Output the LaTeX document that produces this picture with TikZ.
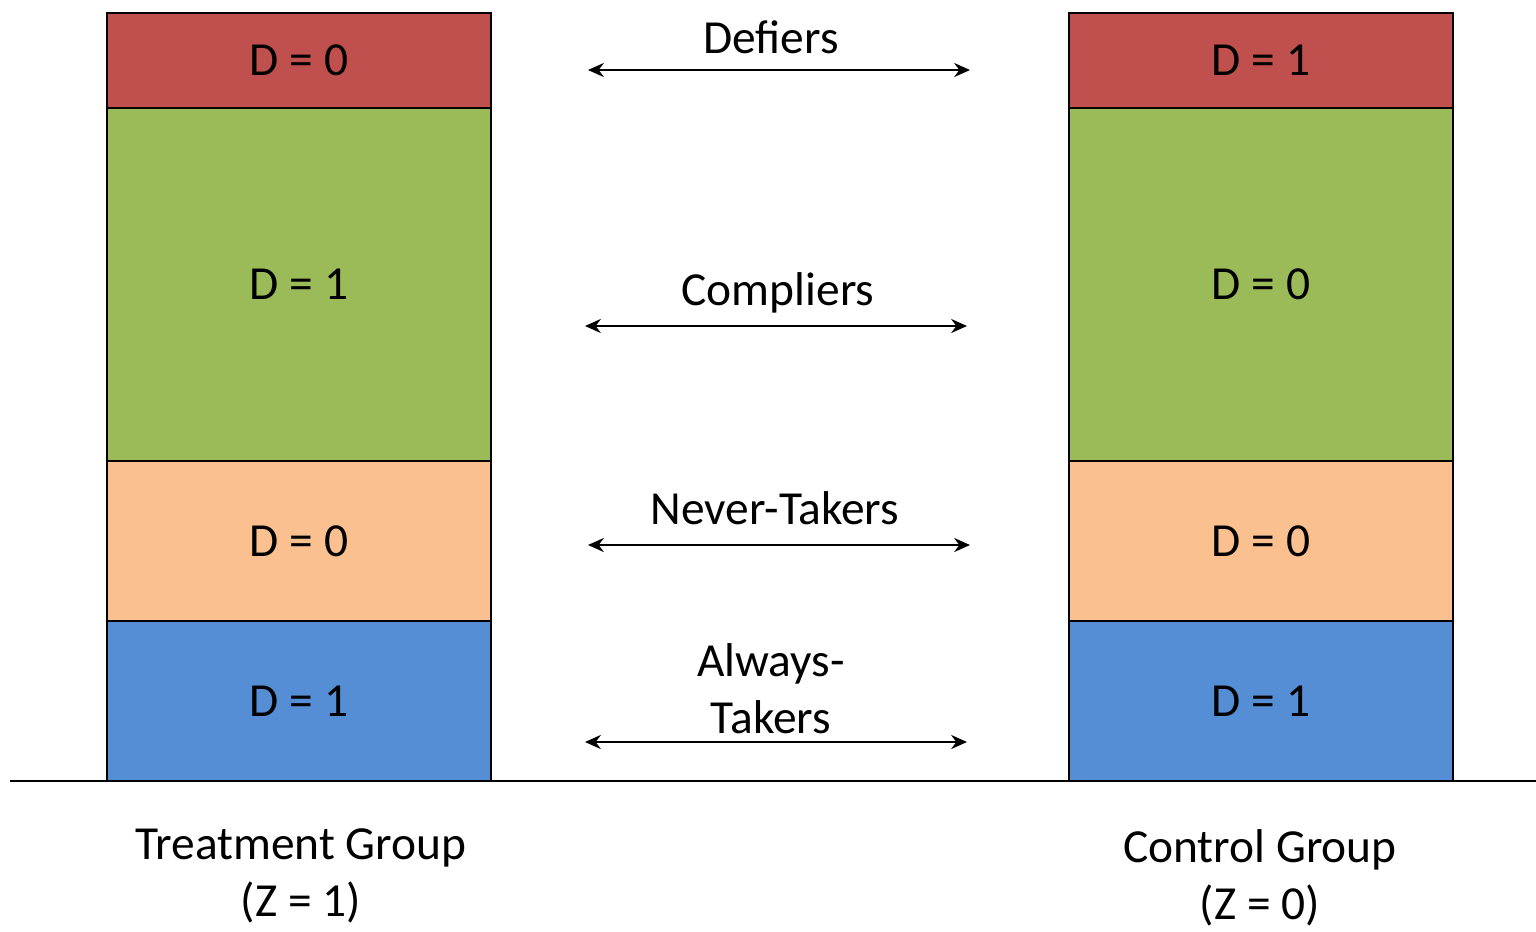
\documentclass[tikz,border=0pt]{standalone}
\usepackage{fontspec}
\setmainfont{Carlito}
\usepackage{xcolor}
\usetikzlibrary{arrows.meta}
\definecolor{defred}{HTML}{C0504D}
\definecolor{compgreen}{HTML}{9BBB59}
\definecolor{nevorange}{HTML}{FAC090}
\definecolor{alwblue}{HTML}{558ED5}
\tikzset{
  cell/.style={draw=black,line width=1.5pt,minimum width=7.68cm,inner sep=0pt,font=\fontsize{27}{31}\selectfont},
  lbl/.style={font=\fontsize{27}{32.4}\selectfont,align=center,inner sep=0pt},
  both/.style={line width=1.2pt,{Stealth[length=9pt,width=8pt]}-{Stealth[length=9pt,width=8pt]}}
}

\begin{document}
\begin{tikzpicture}[x=0.02cm,y=-0.02cm]
	\useasboundingbox (0,0) rectangle (1536,931);
	\node[cell,fill=defred,minimum height=1.9cm] (T1) at (299,60.5) {D = 0};
	\node[cell,fill=compgreen,minimum height=7.06cm] (T2) at (299,284.5) {D = 1};
	\node[cell,fill=nevorange,minimum height=3.2cm] (T3) at (299,541) {D = 0};
	\node[cell,fill=alwblue,minimum height=3.2cm] (T4) at (299,701) {D = 1};
	\node[cell,fill=defred,minimum height=1.9cm] (C1) at (1261,60.5) {D = 1};
	\node[cell,fill=compgreen,minimum height=7.06cm] (C2) at (1261,284.5) {D = 0};
	\node[cell,fill=nevorange,minimum height=3.2cm] (C3) at (1261,541) {D = 0};
	\node[cell,fill=alwblue,minimum height=3.2cm] (C4) at (1261,701) {D = 1};
	%
	%  GROUND AND GROUP NAMES
	%
	\coordinate (G1) at (10,781);
	\coordinate (G2) at (1536,781);
	\draw[line width=1.2pt] (G1) -- (G2);
	\node[lbl] (TG) at (301,876) {Treatment Group\\(Z = 1)};
	\node[lbl] (CG) at (1260,878) {Control Group\\(Z = 0)};
	%
	%  ARROWS
	%
	\coordinate (A1) at (588,70);   \coordinate (B1) at (970,70);
	\coordinate (A2) at (585,326);  \coordinate (B2) at (967,326);
	\coordinate (A3) at (588,545);  \coordinate (B3) at (970,545);
	\coordinate (A4) at (585,742);  \coordinate (B4) at (967,742);
	\node[lbl] (L1) at (771,37) {Defiers};
	\node[lbl] (L2) at (778,293) {Compliers};
	\node[lbl] (L3) at (775,508) {Never-Takers};
	\node[lbl] (L4) at (771,689) {Always-\\Takers};
	\draw[both] (A1) -- (B1);
	\draw[both] (A2) -- (B2);
	\draw[both] (A3) -- (B3);
	\draw[both] (A4) -- (B4);
\end{tikzpicture}
\end{document}
